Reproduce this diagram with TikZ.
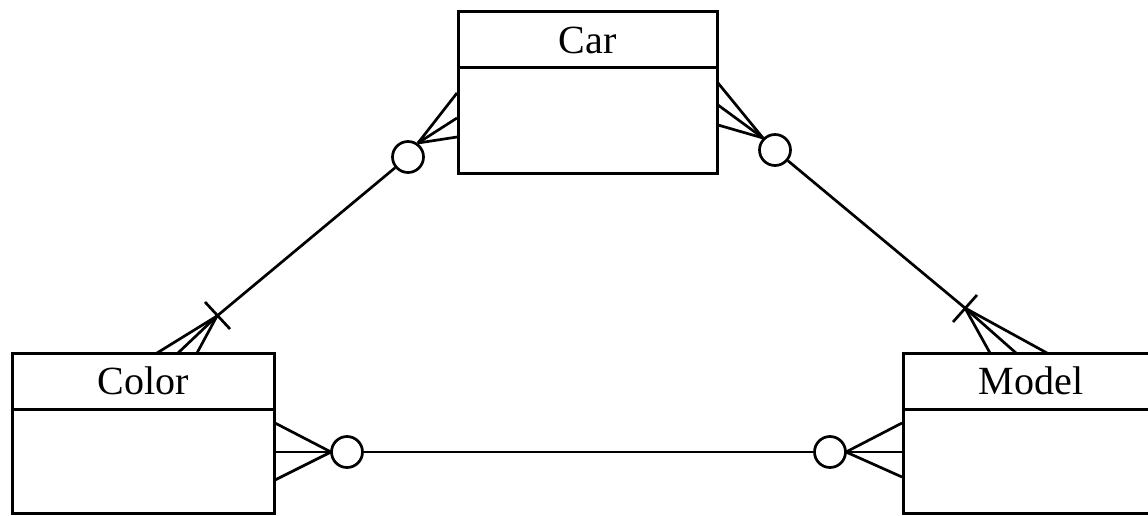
\documentclass[tikz,border=0pt]{standalone}
\usepackage{fontspec}
\setmainfont{Liberation Serif}
\begin{document}
\begin{tikzpicture}[x=1pt,y=-1pt,line width=2.7pt,
  entbox/.style={draw,line width=3pt},
  lbl/.style={font=\fontsize{40}{40}\selectfont,inner sep=0pt},
  opt/.style={circle,draw,fill=white,minimum size=31pt,inner sep=0pt,line width=2.7pt}]
\useasboundingbox (0,0) rectangle (1148,516);
\clip (0,0) rectangle (1148,516);
% entities
\draw[entbox] (458,12) rectangle (717,173);
\draw[entbox] (458,68) -- (717,68);
\node[lbl] (car) at (587.5,40) {Car};
\draw[entbox] (12,353) rectangle (274,513);
\draw[entbox] (12,409) -- (274,409);
\node[lbl] (color) at (143,381) {Color};
\draw[entbox] (903,353) rectangle (1160,513);
\draw[entbox] (903,409) -- (1160,409);
\node[lbl] (model) at (1031,381) {Model};
% Car - Color
\node[opt] (o1) at (408,157) {};
\coordinate (f1) at (418,143);
\draw (457,93) -- (f1);
\draw (457,118) -- (f1);
\draw (457,137) -- (f1);
\coordinate (t1) at (217,316);
\draw (o1) -- (t1);
\draw (157,353) -- (t1);
\draw (178,353) -- (t1);
\draw (197,353) -- (t1);
\coordinate (t1a) at (205,302);
\coordinate (t1b) at (230,329);
\draw (t1a) -- (t1b);
% Car - Model
\node[opt] (o2) at (775,150) {};
\coordinate (f2) at (763,138);
\draw (718,83) -- (f2);
\draw (718,105) -- (f2);
\draw (718,125) -- (f2);
\coordinate (t2) at (965,308);
\draw (o2) -- (t2);
\draw (990,353) -- (t2);
\draw (1016,353) -- (t2);
\draw (1047,353) -- (t2);
\coordinate (t2a) at (953,322);
\coordinate (t2b) at (977,295);
\draw (t2a) -- (t2b);
% Color - Model
\node[opt] (o3) at (347,452) {};
\coordinate (f3) at (331,452);
\draw (275,423) -- (f3);
\draw (275,452) -- (f3);
\draw (275,480) -- (f3);
\node[opt] (o4) at (830,452) {};
\coordinate (f4) at (846,452);
\draw (902,423) -- (f4);
\draw (902,452) -- (f4);
\draw (902,477) -- (f4);
\draw (o3) -- (o4);
\end{tikzpicture}
\end{document}
